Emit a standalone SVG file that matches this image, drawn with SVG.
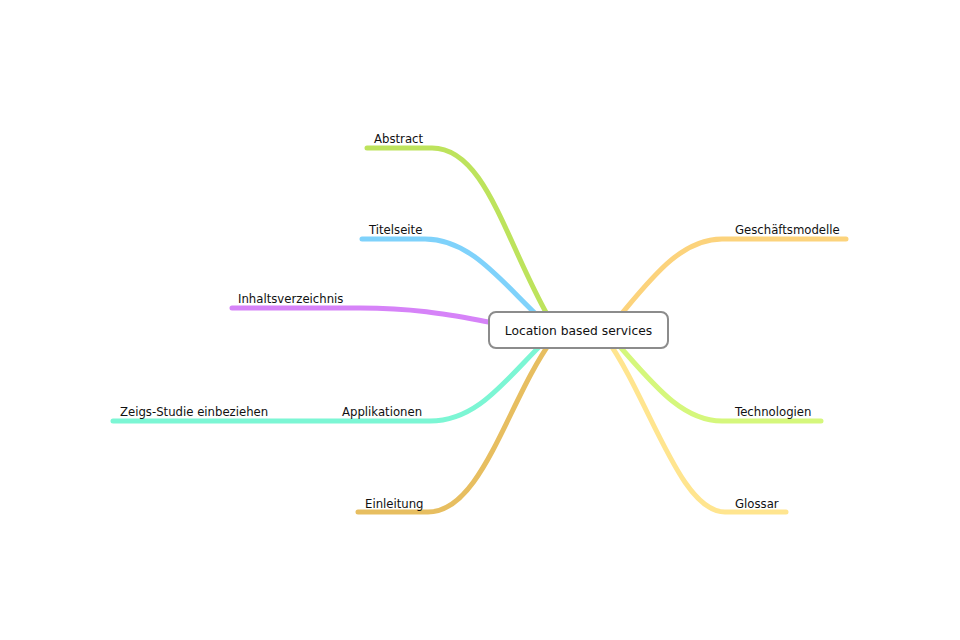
<svg xmlns="http://www.w3.org/2000/svg" width="960" height="640" viewBox="0 0 960 640">
<style>
.c{fill:none;stroke-width:5;stroke-linecap:round;stroke-linejoin:round}
.t{font-family:"DejaVu Sans","Liberation Sans",sans-serif;font-size:11.7px;fill:#111}
.box{fill:#fff;stroke:#8c8c8c;stroke-width:2}
.ct{font-family:"DejaVu Sans","Liberation Sans",sans-serif;font-size:12.3px;fill:#111}
</style>
<rect width="960" height="640" fill="#fff"/>
<g id="connectors">
<path class="c" stroke="#bde35c" d="M367,148 H432 C485,148 505,240 548,316"/>
<path class="c" stroke="#7fd2fb" d="M362,239 H425 C470,239 500,280 540,318"/>
<path class="c" stroke="#d683f8" d="M232,308 H360 C420,308 455,316 495,323"/>
<path class="c" stroke="#7cf6d4" d="M113,421 H430 C478,421 505,380 546,340"/>
<path class="c" stroke="#e7be60" d="M358,512 H428 C482,512 508,400 552,340"/>
<path class="c" stroke="#fcd37c" d="M846,239 H722 C680,239 650,280 618,318"/>
<path class="c" stroke="#d5f77c" d="M821,421 H722 C680,421 650,380 614,340"/>
<path class="c" stroke="#ffe58f" d="M786,512 H725 C680,512 650,400 606,338"/>
</g>
<g id="n-center">
<rect class="box" x="489" y="312" width="179" height="36" rx="7"/>
<text class="ct" x="578.5" y="334.5" text-anchor="middle">Location based services</text>
</g>
<g id="n-abstract"><text class="t" x="374" y="143">Abstract</text></g>
<g id="n-titelseite"><text class="t" x="369" y="234">Titelseite</text></g>
<g id="n-inhalt"><text class="t" x="238" y="303">Inhaltsverzeichnis</text></g>
<g id="n-applikationen"><text class="t" x="342" y="416">Applikationen</text></g>
<g id="n-zeigs"><text class="t" x="120" y="416">Zeigs-Studie einbeziehen</text></g>
<g id="n-einleitung"><text class="t" x="365" y="508">Einleitung</text></g>
<g id="n-geschaeft"><text class="t" x="735" y="234">Geschäftsmodelle</text></g>
<g id="n-technologien"><text class="t" x="735" y="416">Technologien</text></g>
<g id="n-glossar"><text class="t" x="735" y="508">Glossar</text></g>
</svg>
